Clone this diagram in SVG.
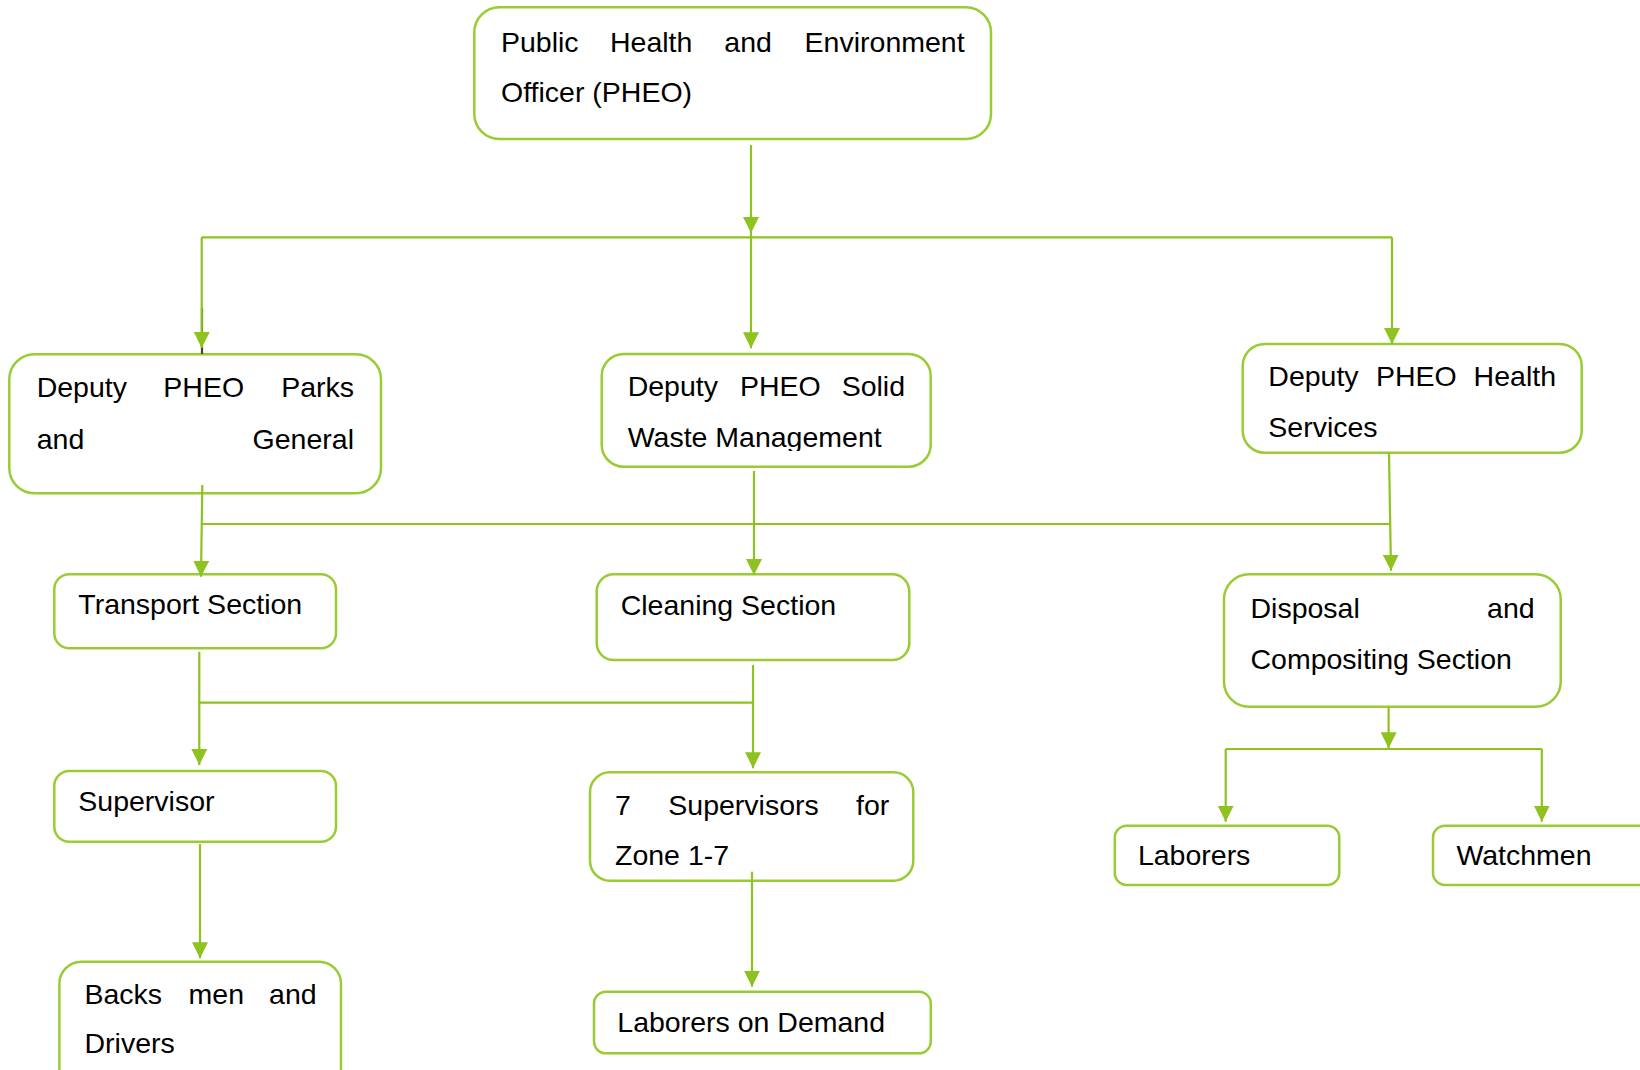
<svg xmlns="http://www.w3.org/2000/svg" width="1640" height="1070" viewBox="0 0 1640 1070">
  <defs>
    <marker id="arrow" viewBox="0 0 16 16" markerWidth="16" markerHeight="16" refX="16" refY="8" orient="auto" markerUnits="userSpaceOnUse">
      <path d="M0,0 L16,8 L0,16 Z" fill="#8dc21f"/>
    </marker>
    <clipPath id="clipSolid">
      <rect x="600" y="340" width="332" height="111"/>
    </clipPath>
  </defs>
  <style>
    .box { fill: #ffffff; stroke: #99cc33; stroke-width: 2.5; }
    .lbl { font-family: "Liberation Sans", Arial, sans-serif; font-size: 28.5px; fill: #000000; }
    .end { text-anchor: end; }
    .wire { fill: none; stroke: #8dc21f; stroke-width: 2.2; }
    .arr { marker-end: url(#arrow); }
  </style>
  <rect width="1640" height="1070" fill="#ffffff"/>

  <!-- nodes -->
  <g id="pheo">
    <rect class="box" x="474.3" y="7.3" width="516.7" height="131.7" rx="25" ry="25"/>
    <text class="lbl" y="52"><tspan x="501">Public</tspan><tspan x="610">Health</tspan><tspan x="724.3">and</tspan><tspan x="804.6">Environment</tspan></text>
    <text class="lbl" x="501" y="102">Officer (PHEO)</text>
  </g>

  <g id="deputy-parks">
    <rect class="box" x="9.3" y="354.3" width="371.7" height="139" rx="25" ry="25"/>
    <text class="lbl" y="396.7"><tspan x="36.7">Deputy</tspan><tspan x="163.3">PHEO</tspan></text>
    <text class="lbl end" x="354" y="396.7">Parks</text>
    <text class="lbl" x="36.7" y="449.3">and</text>
    <text class="lbl end" x="354" y="449.3">General</text>
  </g>

  <g id="deputy-solid">
    <rect class="box" x="601.7" y="354" width="329" height="112.7" rx="22" ry="22"/>
    <text class="lbl" y="395.7"><tspan x="627.7">Deputy</tspan><tspan x="740">PHEO</tspan></text>
    <text class="lbl end" x="905" y="395.7">Solid</text>
    <text class="lbl" x="627.7" y="447.3" clip-path="url(#clipSolid)">Waste Management</text>
  </g>

  <g id="deputy-health">
    <rect class="box" x="1242.7" y="344" width="339" height="108.7" rx="22" ry="22"/>
    <text class="lbl" y="385.7"><tspan x="1268.3">Deputy</tspan><tspan x="1376">PHEO</tspan></text>
    <text class="lbl end" x="1556" y="385.7">Health</text>
    <text class="lbl" x="1268.3" y="436.7">Services</text>
  </g>

  <g id="transport">
    <rect class="box" x="54.3" y="574.3" width="281.7" height="74" rx="15" ry="15"/>
    <text class="lbl" x="78.3" y="614.3">Transport Section</text>
  </g>

  <g id="cleaning">
    <rect class="box" x="596.7" y="574.3" width="312.6" height="85.7" rx="17" ry="17"/>
    <text class="lbl" x="620.7" y="615">Cleaning Section</text>
  </g>

  <g id="disposal">
    <rect class="box" x="1224" y="574.3" width="336.7" height="132.4" rx="25" ry="25"/>
    <text class="lbl" x="1250.5" y="618.3">Disposal</text>
    <text class="lbl end" x="1534.6" y="618.3">and</text>
    <text class="lbl" x="1250.5" y="669">Compositing Section</text>
  </g>

  <g id="supervisor">
    <rect class="box" x="54.3" y="771" width="281.7" height="70.7" rx="15" ry="15"/>
    <text class="lbl" x="78.3" y="810.7">Supervisor</text>
  </g>

  <g id="zone-supervisors">
    <rect class="box" x="590" y="772.3" width="323.3" height="108.4" rx="20" ry="20"/>
    <text class="lbl" y="815"><tspan x="615">7</tspan><tspan x="668.3">Supervisors</tspan></text>
    <text class="lbl end" x="889.3" y="815">for</text>
    <text class="lbl" x="615" y="865">Zone 1-7</text>
  </g>

  <g id="laborers">
    <rect class="box" x="1114.8" y="825.7" width="224.5" height="59.3" rx="12" ry="12"/>
    <text class="lbl" x="1137.9" y="865">Laborers</text>
  </g>

  <g id="watchmen">
    <rect class="box" x="1433" y="825.7" width="230" height="59.3" rx="12" ry="12"/>
    <text class="lbl" x="1456.4" y="865">Watchmen</text>
  </g>

  <g id="backs-drivers">
    <rect class="box" x="59.4" y="961.7" width="281.6" height="130" rx="22" ry="22"/>
    <text class="lbl" y="1004.3"><tspan x="84.5">Backs</tspan><tspan x="188.6">men</tspan></text>
    <text class="lbl end" x="316.6" y="1004.3">and</text>
    <text class="lbl" x="84.5" y="1053.3">Drivers</text>
  </g>

  <g id="laborers-demand">
    <rect class="box" x="594" y="991.7" width="336.8" height="61.6" rx="12" ry="12"/>
    <text class="lbl" x="617.3" y="1031.7">Laborers on Demand</text>
  </g>

  <!-- connectors, drawn over the boxes so the stubs inside them show -->
  <g id="connectors">
    <line x1="202" y1="308" x2="202" y2="354" stroke="#3d4a1a" stroke-width="2.2"/>
    <line class="wire arr" x1="751" y1="145" x2="751" y2="233"/>
    <line class="wire" x1="201.7" y1="237.3" x2="1392" y2="237.3"/>
    <line class="wire arr" x1="201.7" y1="237.3" x2="201.7" y2="348"/>
    <line class="wire arr" x1="751" y1="233" x2="751" y2="348.3"/>
    <line class="wire arr" x1="1392" y1="237.3" x2="1392" y2="344"/>

    <line class="wire arr" x1="202.3" y1="485" x2="201" y2="576.7"/>
    <line class="wire" x1="201.5" y1="524" x2="1391" y2="524"/>
    <line class="wire arr" x1="754" y1="471" x2="754" y2="575"/>
    <line class="wire arr" x1="1389" y1="452.7" x2="1391" y2="570.7"/>

    <line class="wire arr" x1="199.3" y1="651.7" x2="199.3" y2="765"/>
    <line class="wire" x1="199.3" y1="702.7" x2="753" y2="702.7"/>
    <line class="wire arr" x1="753" y1="665" x2="753" y2="768.3"/>

    <line class="wire arr" x1="200" y1="844" x2="200" y2="958.3"/>
    <line class="wire arr" x1="752" y1="871.7" x2="752" y2="986.7"/>

    <line class="wire arr" x1="1388.6" y1="706.7" x2="1388.6" y2="748.3"/>
    <line class="wire" x1="1225.7" y1="749" x2="1541.8" y2="749"/>
    <line class="wire arr" x1="1225.7" y1="749" x2="1225.7" y2="821.7"/>
    <line class="wire arr" x1="1541.8" y1="749" x2="1541.8" y2="821.7"/>
  </g>
</svg>
